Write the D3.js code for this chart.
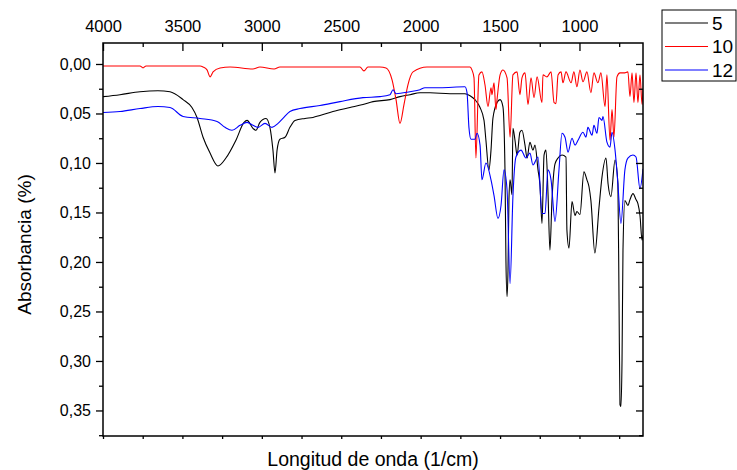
<html>
<head>
<script src="https://cdn.jsdelivr.net/npm/d3@7"></script>
<style>
  body { margin: 0; background: #fff; }
  text { font-family: Arial, "Liberation Sans", sans-serif; }
</style>
</head>
<body>
<svg width="737" height="470"></svg>
<script>
// legend names and colours
const seriesNames = ["5", "10", "12"];
const seriesColors = ["#000000", "#ff0000", "#0000ff"];

// spectra: [wavenumber (1/cm), absorbance]
const spectrum5 = [
  [4000,0.033],[3893,0.031],[3767,0.028],[3654,0.027],[3578,0.028],[3496,0.036],[3440,0.044],
  [3408,0.054],[3370,0.074],[3326,0.090],[3276,0.103],[3226,0.095],[3163,0.077],[3112,0.059],
  [3093,0.057],[3056,0.065],[3037,0.067],[3012,0.059],[2974,0.055],[2949,0.064],[2930,0.087],
  [2917,0.110],[2904,0.087],[2886,0.076],[2854,0.074],[2823,0.064],[2791,0.057],[2728,0.055],
  [2678,0.054],[2634,0.052],[2552,0.048],[2445,0.044],[2363,0.041],[2300,0.038],[2193,0.036],
  [2130,0.033],[2067,0.031],[2004,0.029],[1941,0.029],[1815,0.030],[1721,0.030],[1689,0.032],
  [1658,0.036],[1626,0.044],[1601,0.057],[1589,0.077],[1570,0.107],[1557,0.087],[1545,0.055],
  [1519,0.039],[1500,0.036],[1482,0.043],[1469,0.107],[1463,0.198],[1456,0.235],[1450,0.208],
  [1444,0.137],[1437,0.117],[1425,0.132],[1419,0.065],[1406,0.077],[1393,0.092],[1375,0.069],
  [1362,0.067],[1343,0.082],[1330,0.095],[1312,0.079],[1293,0.087],[1280,0.082],[1261,0.107],
  [1249,0.122],[1236,0.161],[1223,0.092],[1211,0.087],[1198,0.131],[1186,0.188],[1173,0.137],
  [1154,0.101],[1135,0.095],[1110,0.092],[1085,0.094],[1079,0.168],[1066,0.186],[1047,0.139],
  [1028,0.153],[1016,0.149],[997,0.152],[972,0.109],[953,0.117],[940,0.124],[928,0.138],
  [903,0.191],[877,0.145],[858,0.114],[833,0.095],[820,0.121],[802,0.134],[776,0.097],
  [758,0.121],[751,0.238],[745,0.344],[739,0.346],[732,0.299],[726,0.188],[714,0.138],
  [695,0.143],[682,0.137],[663,0.131],[644,0.137],[632,0.141],[619,0.153],[606,0.178],[600,0.173]
];

const spectrum10 = [
  [4000,0.002],[3767,0.002],[3748,0.004],[3729,0.002],[3389,0.002],[3370,0.003],[3345,0.006],
  [3326,0.013],[3307,0.008],[3263,0.004],[3200,0.003],[3056,0.005],[3012,0.003],[2923,0.005],
  [2886,0.003],[2382,0.003],[2357,0.007],[2332,0.003],[2256,0.003],[2218,0.004],[2180,0.016],
  [2155,0.036],[2130,0.060],[2105,0.041],[2080,0.021],[2048,0.008],[1960,0.003],[1689,0.003],
  [1677,0.006],[1664,0.014],[1652,0.095],[1633,0.011],[1614,0.008],[1595,0.021],[1576,0.043],
  [1557,0.024],[1551,0.031],[1538,0.019],[1526,0.046],[1519,0.036],[1500,0.011],[1482,0.006],
  [1456,0.014],[1437,0.074],[1419,0.011],[1393,0.008],[1375,0.031],[1362,0.014],[1343,0.009],
  [1324,0.041],[1305,0.014],[1286,0.034],[1267,0.013],[1236,0.039],[1230,0.011],[1205,0.013],
  [1179,0.008],[1160,0.039],[1148,0.040],[1135,0.011],[1116,0.008],[1104,0.019],[1085,0.008],
  [1053,0.019],[1035,0.008],[1016,0.023],[997,0.006],[978,0.018],[953,0.008],[928,0.029],
  [909,0.009],[884,0.019],[865,0.009],[839,0.043],[827,0.011],[808,0.077],[795,0.046],
  [783,0.074],[764,0.013],[745,0.009],[720,0.009],[695,0.008],[682,0.033],[669,0.009],
  [657,0.039],[644,0.009],[632,0.039],[619,0.011],[606,0.041],[600,0.026]
];

const spectrum12 = [
  [4000,0.049],[3893,0.048],[3767,0.045],[3654,0.043],[3578,0.044],[3496,0.053],[3389,0.055],
  [3282,0.058],[3232,0.064],[3188,0.067],[3137,0.062],[3093,0.059],[3056,0.062],[3024,0.064],
  [2980,0.060],[2936,0.064],[2898,0.060],[2867,0.055],[2823,0.048],[2760,0.045],[2634,0.042],
  [2508,0.038],[2363,0.034],[2256,0.033],[2193,0.031],[2174,0.026],[2155,0.030],[2067,0.028],
  [2004,0.026],[1973,0.024],[1878,0.024],[1721,0.023],[1708,0.029],[1696,0.064],[1683,0.076],
  [1658,0.076],[1645,0.070],[1626,0.082],[1614,0.117],[1589,0.100],[1557,0.117],[1538,0.133],
  [1513,0.156],[1494,0.143],[1475,0.107],[1456,0.127],[1437,0.222],[1419,0.134],[1400,0.094],
  [1368,0.087],[1337,0.095],[1312,0.090],[1293,0.102],[1261,0.094],[1236,0.151],[1217,0.151],
  [1198,0.107],[1179,0.117],[1154,0.159],[1129,0.107],[1110,0.070],[1091,0.074],[1072,0.089],
  [1047,0.075],[1028,0.082],[1009,0.077],[978,0.069],[959,0.074],[947,0.064],[921,0.072],
  [909,0.062],[890,0.070],[877,0.054],[858,0.057],[852,0.053],[827,0.079],[808,0.084],
  [795,0.069],[776,0.087],[758,0.121],[739,0.161],[714,0.107],[695,0.095],[663,0.092],
  [644,0.094],[619,0.126],[600,0.106]
];

const allSpectra = [spectrum5, spectrum10, spectrum12];

// tick labels
const xMajorTicks = [4000, 3500, 3000, 2500, 2000, 1500, 1000];
const xMinorTicks = [3750, 3250, 2750, 2250, 1750, 1250, 750];
const yMajorTicks = [0, 0.05, 0.10, 0.15, 0.20, 0.25, 0.30, 0.35];
const yMinorTicks = [0.025, 0.075, 0.125, 0.175, 0.225, 0.275, 0.325, 0.375];

const plotLeft = 103, plotRight = 643, plotTop = 43, plotBottom = 436;

const x = d3.scaleLinear().domain([4000, 600]).range([plotLeft, plotRight]);
const y = d3.scaleLinear().domain([-0.0212, 0.3758]).range([plotTop, plotBottom]);

const svg = d3.select("svg");
svg.append("rect").attr("width", 737).attr("height", 470).attr("fill", "#fff");

svg.append("clipPath").attr("id", "plot")
  .append("rect").attr("x", plotLeft).attr("y", plotTop)
  .attr("width", plotRight - plotLeft).attr("height", plotBottom - plotTop);

const line = d3.line()
  .x(d => x(d[0]))
  .y(d => y(d[1]))
  .curve(d3.curveMonotoneX);

svg.append("g").attr("clip-path", "url(#plot)")
  .selectAll("path")
  .data(allSpectra)
  .join("path")
    .attr("d", line)
    .attr("fill", "none")
    .attr("stroke", (d, i) => seriesColors[i])
    .attr("stroke-width", 1.1)
    .attr("stroke-linejoin", "round");

const fmt = v => d3.format(".2f")(v).replace(".", ",");

// axes
const styleAxis = g => {
  g.select(".domain").remove();
  g.selectAll("line").attr("stroke", "#000").attr("stroke-width", 1.3);
  g.selectAll("text").attr("fill", "#000").style("font-size", "16px");
};

const yMinorIn = yMinorTicks.filter(v => y(v) < plotBottom);

svg.append("g").attr("transform", `translate(${plotLeft},0)`)
  .call(d3.axisLeft(y).tickValues(yMajorTicks).tickSize(7).tickPadding(5).tickFormat(fmt))
  .call(styleAxis);
svg.append("g").attr("transform", `translate(${plotLeft},0)`)
  .call(d3.axisLeft(y).tickValues(yMinorIn).tickSize(4).tickFormat(""))
  .call(styleAxis);

svg.append("g").attr("transform", `translate(${plotRight},0)`)
  .call(d3.axisRight(y).tickValues(yMajorTicks).tickSize(-7).tickFormat(""))
  .call(styleAxis);
svg.append("g").attr("transform", `translate(${plotRight},0)`)
  .call(d3.axisRight(y).tickValues(yMinorIn).tickSize(-4).tickFormat(""))
  .call(styleAxis);

svg.append("g").attr("transform", `translate(0,${plotTop})`)
  .call(d3.axisTop(x).tickValues(xMajorTicks).tickSize(-8).tickPadding(11).tickFormat(d3.format("d")))
  .call(styleAxis)
  .call(g => g.selectAll("text").style("font-size", "16.5px"));
svg.append("g").attr("transform", `translate(0,${plotTop})`)
  .call(d3.axisTop(x).tickValues(xMinorTicks).tickSize(-4).tickFormat(""))
  .call(styleAxis);

svg.append("g").attr("transform", `translate(0,${plotBottom})`)
  .call(d3.axisBottom(x).tickValues(xMajorTicks.concat(xMinorTicks)).tickSize(3).tickFormat(""))
  .call(styleAxis);

svg.append("rect")
  .attr("x", plotLeft).attr("y", plotTop)
  .attr("width", plotRight - plotLeft).attr("height", plotBottom - plotTop)
  .attr("fill", "none").attr("stroke", "#000").attr("stroke-width", 1.5);

svg.append("text")
  .attr("transform", `translate(24,${(plotTop + plotBottom) / 2 + 5}) rotate(-90)`)
  .attr("text-anchor", "middle")
  .attr("dy", "0.35em")
  .style("font-size", "19px")
  .text("Absorbancia (%)");

svg.append("text")
  .attr("x", 373)
  .attr("y", 466)
  .attr("text-anchor", "middle")
  .style("font-size", "19.5px")
  .text("Longitud de onda (1/cm)");

// legend
const legend = svg.append("g").attr("transform", "translate(662,10)");
legend.append("rect")
  .attr("width", 74).attr("height", 71)
  .attr("fill", "#fff").attr("stroke", "#000").attr("stroke-width", 1);
legend.selectAll("g")
  .data(seriesNames)
  .join("g")
    .attr("transform", (d, i) => `translate(0,${13 + i * 23.5})`)
    .call(g => g.append("line")
      .attr("x1", 3).attr("x2", 46)
      .attr("stroke", (d, i) => seriesColors[i])
      .attr("stroke-width", 1.1))
    .call(g => g.append("text")
      .attr("x", 50)
      .attr("dy", "0.35em")
      .style("font-size", "19px")
      .text(d => d));
</script>
</body>
</html>
